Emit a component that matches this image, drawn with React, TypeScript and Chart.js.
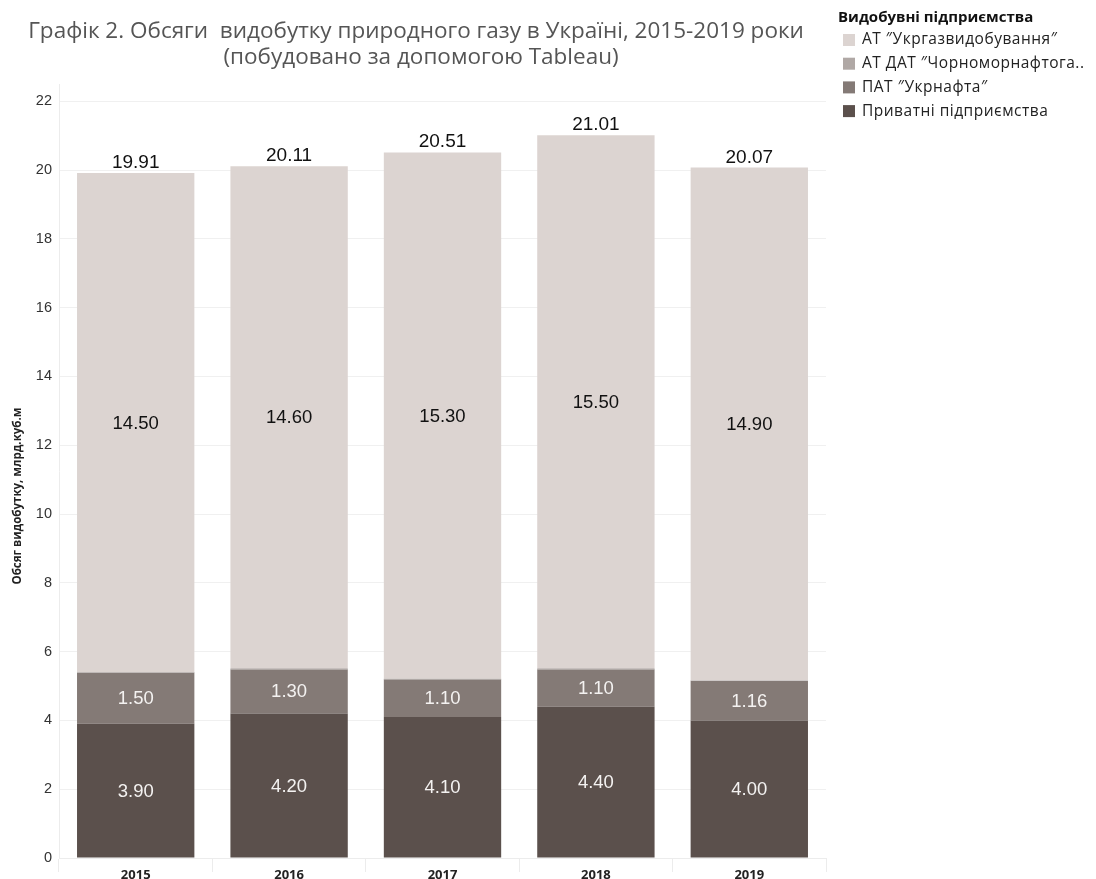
import React, { useEffect, useRef } from "react";
import { Chart, registerables } from "chart.js";

Chart.register(...registerables);

const years = ["2015", "2016", "2017", "2018", "2019"];
const privateCos = [3.9, 4.2, 4.1, 4.4, 4.0];
const ukrnafta = [1.5, 1.3, 1.1, 1.1, 1.16];
const chornomor = [0.01, 0.01, 0.01, 0.01, 0.01];
const ukrgaz = [14.5, 14.6, 15.3, 15.5, 14.9];
const totals = [19.91, 20.11, 20.51, 21.01, 20.07];
const yTicks = [0, 2, 4, 6, 8, 10, 12, 14, 16, 18, 20, 22];

const titleLines = [
  "Графік 2. Обсяги  видобутку природного газу в Україні, 2015-2019 роки",
  "(побудовано за допомогою Tableau)",
];
const legendTitle = "Видобувні підприємства";
const legendItems = [
  { label: "АТ \u2033Укргазвидобування\u2033", color: "#dcd4d1" },
  { label: "АТ ДАТ \u2033Чорноморнафтога..", color: "#b0a8a5" },
  { label: "ПАТ \u2033Укрнафта\u2033", color: "#847a76" },
  { label: "Приватні підприємства", color: "#5b504c" },
];
const yTitle = "Обсяг видобутку, млрд.куб.м";

const SANS = "'Open Sans', 'Noto Sans', sans-serif";
const ARIAL = "'Liberation Sans', Arial, sans-serif";

const overlayPlugin = {
  id: "overlay",
  afterDatasetsDraw(chart: any) {
    const ctx = chart.ctx;
    ctx.save();
    const labelSets = [
      { idx: 0, data: privateCos, color: "#f4f2f1" },
      { idx: 1, data: ukrnafta, color: "#f4f2f1" },
      { idx: 3, data: ukrgaz, color: "#111111" },
    ];
    ctx.font = "18.5px " + ARIAL;
    ctx.textAlign = "center";
    ctx.textBaseline = "middle";
    labelSets.forEach((s) => {
      const meta = chart.getDatasetMeta(s.idx);
      meta.data.forEach((bar: any, i: number) => {
        ctx.fillStyle = s.color;
        const y = (bar.y + bar.base) / 2;
        ctx.fillText(s.data[i].toFixed(2), bar.x, y + 1);
      });
    });
    const sep = chart.getDatasetMeta(1);
    ctx.strokeStyle = "rgba(255,255,255,0.35)";
    ctx.lineWidth = 1;
    sep.data.forEach((bar: any) => {
      ctx.beginPath();
      ctx.moveTo(bar.x - bar.width / 2, Math.round(bar.y) + 0.5);
      ctx.lineTo(bar.x + bar.width / 2, Math.round(bar.y) + 0.5);
      ctx.stroke();
    });
    const topMeta = chart.getDatasetMeta(3);
    ctx.fillStyle = "#111111";
    ctx.textBaseline = "alphabetic";
    ctx.font = "19px " + ARIAL;
    topMeta.data.forEach((bar: any, i: number) => {
      ctx.fillText(totals[i].toFixed(2), bar.x, bar.y - 5);
    });
    ctx.restore();
  },
  afterDraw(chart: any) {
    const ctx = chart.ctx;
    ctx.save();
    ctx.fillStyle = "#555555";
    ctx.textAlign = "center";
    ctx.textBaseline = "middle";
    ctx.font = "22.5px " + SANS;
    ctx.fillText(titleLines[0], 416, 32);
    ctx.fillText(titleLines[1], 421, 58);
    ctx.save();
    ctx.translate(18, 496);
    ctx.rotate(-Math.PI / 2);
    ctx.fillStyle = "#222222";
    ctx.font = "bold 11.5px " + SANS;
    ctx.fillText(yTitle, 0, 0);
    ctx.restore();
    ctx.textAlign = "left";
    ctx.fillStyle = "#111111";
    ctx.font = "bold 15px " + SANS;
    ctx.fillText(legendTitle, 838, 18);
    ctx.font = "15.5px " + SANS;
    (ctx as any).letterSpacing = "0.5px";
    legendItems.forEach((it, i) => {
      const y = 40 + i * 23.7;
      ctx.fillStyle = it.color;
      ctx.fillRect(843, y - 6, 12, 12);
      ctx.fillStyle = "#222222";
      ctx.fillText(it.label, 862, y);
    });
    ctx.restore();
  },
};

export default function App() {
  const ref = useRef<HTMLCanvasElement>(null);
  useEffect(() => {
    document.body.style.margin = "0";
    const ds = (label: string, data: number[], color: string) => ({
      label,
      data,
      backgroundColor: color,
      borderWidth: 0,
      barPercentage: 0.765,
      categoryPercentage: 1,
    });
    const chart = new Chart(ref.current as HTMLCanvasElement, {
      type: "bar",
      data: {
        labels: years,
        datasets: [
          ds(legendItems[3].label, privateCos, legendItems[3].color),
          ds(legendItems[2].label, ukrnafta, legendItems[2].color),
          ds(legendItems[1].label, chornomor, legendItems[1].color),
          ds(legendItems[0].label, ukrgaz, legendItems[0].color),
        ],
      },
      options: {
        animation: false,
        responsive: false,
        layout: { padding: { top: 84, right: 270, left: 0, bottom: 0 } },
        plugins: {
          legend: { display: false },
          title: { display: false },
          tooltip: { enabled: false },
        },
        scales: {
          x: {
            stacked: true,
            grid: {
              offset: true,
              drawOnChartArea: false,
              drawTicks: true,
              tickLength: 14,
              color: "#ececec",
            },
            border: { color: "#ececec" },
            ticks: {
              color: "#222222",
              padding: -5,
              font: { family: SANS, size: 13, weight: "bold" },
            },
            afterFit: (s: any) => {
              s.height = 21;
            },
          },
          y: {
            stacked: true,
            min: 0,
            max: 22.5,
            afterBuildTicks: (s: any) => {
              s.ticks = yTicks.map((v) => ({ value: v }));
            },
            grid: { color: "#f0f0f0", drawTicks: false },
            border: { color: "#ececec" },
            ticks: {
              color: "#333333",
              padding: 7,
              font: { family: ARIAL, size: 14.5 },
              callback: (v: any) => String(v),
            },
            afterFit: (s: any) => {
              s.width = 59;
            },
          },
        },
      },
      plugins: [overlayPlugin],
    } as any);
    return () => chart.destroy();
  }, []);
  return <canvas ref={ref} width={1096} height={879} style={{ display: "block" }} />;
}
